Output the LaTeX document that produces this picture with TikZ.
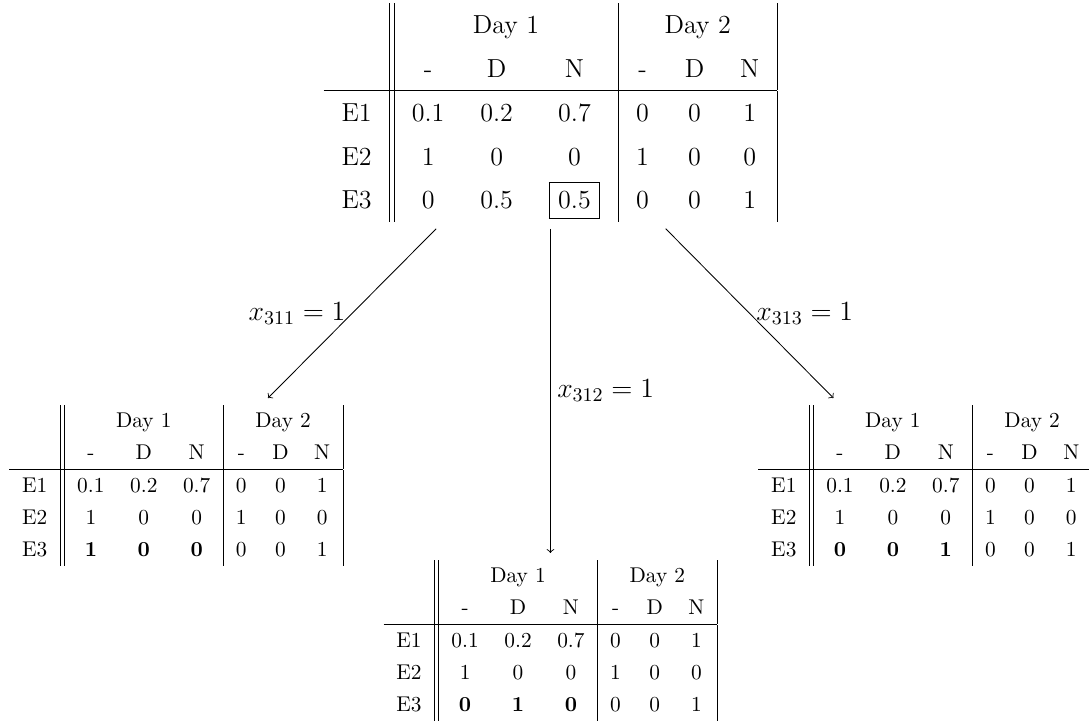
\documentclass[tikz,border=0pt]{standalone}
\usepackage{fix-cm}
\usepackage{amsfonts, amsmath, amssymb}
\usepackage{tikz}
\usepackage{color}
%root table, x_{31j} not fixed yet
\def\roottab{{\fontsize{12.2}{14.6}\selectfont
\renewcommand{\arraystretch}{1.4}\setlength{\tabcolsep}{8.4pt}\setlength{\fboxsep}{4pt}%
\begin{tabular}{c||ccc|ccc|}
 & \multicolumn{3}{c|}{Day 1} & \multicolumn{3}{c|}{Day 2}\\
 & - & D & N & - & D & N\\ \hline
E1 & 0.1 & 0.2 & 0.7 & 0 & 0 & 1\\
E2 & 1 & 0 & 0 & 1 & 0 & 0\\
E3 & 0 & 0.5 & \fbox{0.5} & 0 & 0 & 1
\end{tabular}}}
%branch table, #1 #2 #3 = fixed row of E3 on day 1
\def\subtab#1#2#3{{\renewcommand{\arraystretch}{1.25}%
\begin{tabular}{c||ccc|ccc|}
 & \multicolumn{3}{c|}{Day 1} & \multicolumn{3}{c|}{Day 2}\\
 & - & D & N & - & D & N\\ \hline
E1 & 0.1 & 0.2 & 0.7 & 0 & 0 & 1\\
E2 & 1 & 0 & 0 & 1 & 0 & 0\\
E3 & \textbf{#1} & \textbf{#2} & \textbf{#3} & 0 & 0 & 1
\end{tabular}}}

\begin{document}
\begin{tikzpicture}[>=to, every node/.style={inner sep=3pt}]
\useasboundingbox (0,0) rectangle (17.925,11.95);
%put tables
\node (P) at (9.06,10.10) {\roottab};
\node (B1) at (2.90,3.96) {\subtab{1}{0}{0}};
\node (B2) at (9.06,1.41) {\subtab{0}{1}{0}};
\node (B3) at (15.23,3.96) {\subtab{0}{0}{1}};

%branches
\draw[->] ([xshift=-53.5pt]P.south) to node[left,font=\fontsize{13}{15.6}\selectfont] {$x_{311}=1$} ([xshift=43pt]B1.north);
\draw[->] (P.south) to node[right,font=\fontsize{13}{15.6}\selectfont] {$x_{312}=1$} (B2.north);
\draw[->] ([xshift=54pt]P.south) to node[right,font=\fontsize{13}{15.6}\selectfont] {$x_{313}=1$} ([xshift=-43pt]B3.north);
\end{tikzpicture}
\end{document}
